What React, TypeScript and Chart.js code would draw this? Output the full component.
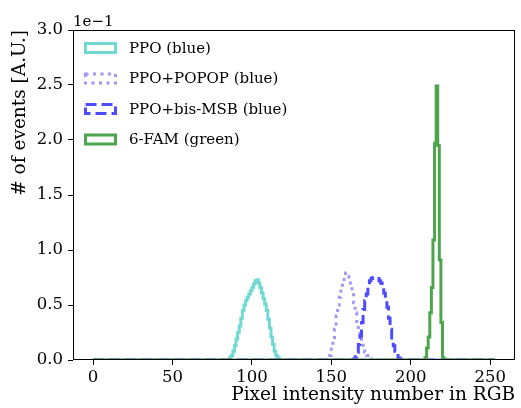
import React, { useEffect, useRef } from "react";
import { Chart, registerables } from "chart.js";

Chart.register(...registerables);

// ---------- data ----------
const NUM_BINS = 253; // bin edges 0..253, width 1
const X_TICKS = [0, 50, 100, 150, 200, 250];
const Y_TICKS = [0, 0.05, 0.1, 0.15, 0.2, 0.25, 0.3];
const Y_TICK_LABELS = ["0.0", "0.5", "1.0", "1.5", "2.0", "2.5", "3.0"];
const X_TITLE = "Pixel intensity number in RGB";
const Y_TITLE = "# of events [A.U.]";
const OFFSET_TEXT = "1e\u22121";

const SERIES_LABELS = ["PPO (blue)", "PPO+POPOP (blue)", "PPO+bis-MSB (blue)", "6-FAM (green)"];

const PPO_START = 86;
const PPO_VALUES = [
  0.002, 0.004, 0.008, 0.013, 0.019, 0.025, 0.031, 0.038, 0.045, 0.05, 0.054, 0.057,
  0.06, 0.063, 0.066, 0.069, 0.072, 0.073, 0.07, 0.066, 0.061, 0.056, 0.051, 0.045,
  0.037, 0.029, 0.021, 0.014, 0.008, 0.004, 0.002, 0.001,
];

const POPOP_START = 148;
const POPOP_VALUES = [
  0.001, 0.004, 0.01, 0.017, 0.028, 0.04, 0.05, 0.057, 0.064, 0.071, 0.077, 0.079,
  0.076, 0.072, 0.068, 0.062, 0.052, 0.043, 0.035, 0.027, 0.02, 0.015, 0.01, 0.007,
  0.004, 0.002, 0.001,
];

const BISMSB_START = 164;
const BISMSB_VALUES = [
  0.001, 0.003, 0.007, 0.014, 0.022, 0.034, 0.046, 0.054, 0.06, 0.066, 0.072, 0.074,
  0.075, 0.075, 0.075, 0.074, 0.072, 0.07, 0.066, 0.061, 0.056, 0.048, 0.038, 0.028,
  0.02, 0.013, 0.008, 0.004, 0.002, 0.001,
];

const FAM_START = 209;
const FAM_VALUES = [0.002, 0.011, 0.021, 0.043, 0.066, 0.109, 0.197, 0.249, 0.195, 0.091, 0.034, 0.002];

const SERIES_STARTS = [PPO_START, POPOP_START, BISMSB_START, FAM_START];
const SERIES_VALUES = [PPO_VALUES, POPOP_VALUES, BISMSB_VALUES, FAM_VALUES];

// ---------- styles ----------
const COLORS = ["#72d8d4", "#a395f3", "#4d4dff", "#4da64d"];
const DASHES: number[][] = [[], [3, 4.5], [11, 5], []];
const LINE_W = 3;
const FONT = '"DejaVu Serif", serif';

function stepPoints(start: number, values: number[]) {
  const pts: { x: number; y: number }[] = [{ x: 0, y: 0 }];
  for (let i = 0; i < NUM_BINS; i++) {
    const v = values[i - start];
    pts.push({ x: i, y: v === undefined ? 0 : v });
  }
  pts.push({ x: NUM_BINS, y: 0 });
  return pts;
}

const framePlugin = {
  id: "frameLegend",
  afterDraw(chart: any) {
    const { ctx, chartArea: a } = chart;
    ctx.save();
    ctx.setLineDash([]);
    ctx.strokeStyle = "#000";
    ctx.lineWidth = 1;
    const l = Math.round(a.left) + 0.5;
    const t = Math.round(a.top) + 0.5;
    const r = Math.round(a.right) - 0.5;
    const b = Math.round(a.bottom) - 0.5;
    ctx.strokeRect(l, t, r - l, b - t);
    ctx.fillStyle = "#000";
    ctx.font = `15px ${FONT}`;
    ctx.textAlign = "left";
    ctx.textBaseline = "alphabetic";
    ctx.fillText(OFFSET_TEXT, a.left, a.top - 4);
    ctx.font = `15px ${FONT}`;
    ctx.textBaseline = "middle";
    SERIES_LABELS.forEach((label, i) => {
      const cy = a.top + 18 + i * 30.5;
      ctx.lineWidth = LINE_W;
      ctx.strokeStyle = COLORS[i];
      ctx.setLineDash(DASHES[i]);
      ctx.strokeRect(a.left + 12.5, cy - 4.5, 30, 9);
      ctx.setLineDash([]);
      ctx.fillStyle = "#000";
      ctx.fillText(label, a.left + 56, cy + 1);
    });
    ctx.restore();
  },
};

export default function App() {
  const ref = useRef<HTMLCanvasElement | null>(null);

  useEffect(() => {
    if (!ref.current) return;
    const datasets = SERIES_LABELS.map((label, i) => ({
      label,
      data: stepPoints(SERIES_STARTS[i], SERIES_VALUES[i]),
      borderColor: COLORS[i],
      backgroundColor: "transparent",
      borderWidth: LINE_W,
      borderDash: DASHES[i],
      stepped: true as const,
      pointRadius: 0,
      fill: false,
      order: 3 - i,
    }));

    const chart = new Chart(ref.current, {
      type: "line",
      data: { datasets },
      plugins: [framePlugin],
      options: {
        animation: false,
        responsive: false,
        events: [],
        layout: { padding: { left: 0, right: 6, top: 30, bottom: 0 } },
        plugins: { legend: { display: false }, tooltip: { enabled: false } },
        scales: {
          x: {
            type: "linear",
            min: -0.05 * NUM_BINS,
            max: NUM_BINS * 1.05,
            afterBuildTicks: (s: any) => {
              s.ticks = X_TICKS.map((v) => ({ value: v }));
            },
            afterFit: (s: any) => {
              s.height = 48;
            },
            ticks: {
              color: "#000",
              font: { family: FONT, size: 16.5 },
              padding: 3,
              maxRotation: 0,
              autoSkip: false,
              callback: (v: any) => String(v),
            },
            grid: { display: true, drawOnChartArea: false, drawTicks: true, tickLength: 5, tickColor: "#000", tickWidth: 1 },
            border: { display: false },
            title: {
              display: true,
              text: X_TITLE,
              align: "end",
              color: "#000",
              font: { family: FONT, size: 18.5 },
              padding: { top: 0, bottom: 2 },
            },
          },
          y: {
            type: "linear",
            min: 0,
            max: 0.3,
            afterBuildTicks: (s: any) => {
              s.ticks = Y_TICKS.map((v) => ({ value: v }));
            },
            afterFit: (s: any) => {
              s.width = 73;
            },
            ticks: {
              color: "#000",
              font: { family: FONT, size: 16.5 },
              padding: 5,
              autoSkip: false,
              callback: (_v: any, idx: number) => Y_TICK_LABELS[idx],
            },
            grid: { display: true, drawOnChartArea: false, drawTicks: true, tickLength: 5, tickColor: "#000", tickWidth: 1 },
            border: { display: false },
            title: {
              display: true,
              text: Y_TITLE,
              align: "end",
              color: "#000",
              font: { family: FONT, size: 18.5 },
              padding: { top: 9, bottom: 0 },
            },
          },
        },
      },
    });
    return () => chart.destroy();
  }, []);

  return (
    <div style={{ position: "fixed", left: 0, top: 0, width: 521, height: 408, background: "#fff" }}>
      <canvas ref={ref} width={521} height={408} style={{ display: "block", width: 521, height: 408 }} />
    </div>
  );
}
